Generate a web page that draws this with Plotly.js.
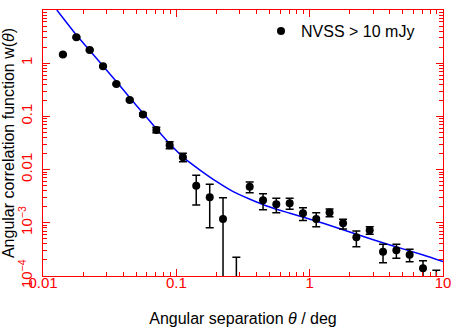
<!DOCTYPE html>
<html>
<head>
<meta charset="utf-8">
<script src="https://cdn.plot.ly/plotly-3.0.1.min.js"></script>
<style>
  html, body { margin: 0; padding: 0; background: #fff; }
  #chart { width: 453px; height: 327px; }
</style>
</head>
<body>
<div id="chart"></div>
<script>
const theta = [0.0141, 0.0178, 0.0224, 0.0282, 0.0355, 0.0447, 0.0562, 0.0708, 0.0891, 0.112,
  0.141, 0.178, 0.224, 0.282, 0.355, 0.447, 0.562, 0.708, 0.891, 1.12,
  1.41, 1.78, 2.24, 2.82, 3.55, 4.47, 5.62, 7.08, 8.91];
const wVal = [1.45, 3.07, 1.77, 0.875, 0.406, 0.203, 0.109, 0.0554, 0.0287, 0.0170,
  0.00498, 0.00301, 0.00118, 0.00004, 0.00478, 0.00265, 0.00223, 0.00233, 0.00151, 0.00118,
  0.00157, 0.000979, 0.000534, 0.000723, 0.000286, 0.000304, 0.000251, 0.000140, 0.00007];
const wHi = [1.50, 3.17, 1.82, 0.90, 0.42, 0.211, 0.116, 0.0624, 0.0334, 0.0202,
  0.00782, 0.00530, 0.00297, 0.000224, 0.00585, 0.00352, 0.00289, 0.00289, 0.00192, 0.00155,
  0.00182, 0.00116, 0.000701, 0.000845, 0.000394, 0.000394, 0.000318, 0.000194, 0.000128];
// negative lower bounds run off the bottom of the log axis
const wLo = [1.40, 2.97, 1.72, 0.85, 0.392, 0.195, 0.102, 0.0494, 0.0246, 0.0141,
  0.00216, 0.000809, -0.0005, -0.0002, 0.00368, 0.00176, 0.00155, 0.00179, 0.00110, 0.000845,
  0.00130, 0.000765, 0.000356, 0.000608, 0.000178, 0.000215, 0.000186, -0.0001, -0.0001];

// Model curve (blue)
const thetaFit = [0.0127, 0.0178, 0.0224, 0.0285, 0.0359, 0.0442, 0.0565, 0.0713, 0.0896, 0.1127,
  0.1505, 0.201, 0.267, 0.357, 0.476, 0.712, 1.265, 2.25, 4.00, 7.11, 10.0];
const wFit = [10.0, 3.39, 1.74, 0.861, 0.437, 0.234, 0.1135, 0.0575, 0.0302, 0.0170,
  0.00982, 0.00593, 0.00385, 0.00277, 0.00207, 0.00151, 0.000979, 0.000608, 0.000383, 0.000248, 0.000186];

const xTickVals = [0.01, 0.1, 1, 10];
const xTickText = ['0.01', '0.1', '1', '10'];
const yTickVals = [1e-4, 1e-3, 0.01, 0.1, 1, 10];
const yTickText = ['10<sup>\u22124</sup>', '10<sup>\u22123</sup>', '0.01', '0.1', '1', '10'];

function minorLogTicks(lo, hi) {
  const out = [];
  for (let e = lo; e < hi; e++) {
    for (let m = 2; m <= 9; m++) out.push(m * Math.pow(10, e));
  }
  return out;
}

const red = '#ff0000';
const font = 'Liberation Sans, Arial, Helvetica, sans-serif';

const points = {
  x: theta,
  y: wVal,
  type: 'scatter',
  mode: 'markers',
  name: 'NVSS > 10 mJy',
  marker: { color: '#000', size: 8 },
  error_y: {
    type: 'data',
    symmetric: false,
    array: wHi.map((h, i) => h - wVal[i]),
    arrayminus: wLo.map((l, i) => wVal[i] - l),
    color: '#000',
    thickness: 1.5,
    width: 4
  }
};

const model = {
  x: thetaFit,
  y: wFit,
  type: 'scatter',
  mode: 'lines',
  line: { color: '#0000ff', width: 1.5, shape: 'spline', smoothing: 0.6 },
  showlegend: false,
  hoverinfo: 'skip'
};

const axisBase = {
  type: 'log',
  showline: true,
  linecolor: red,
  linewidth: 1,
  mirror: 'allticks',
  ticks: 'inside',
  ticklen: 7,
  tickwidth: 1,
  tickcolor: red,
  tickmode: 'array',
  showgrid: false,
  zeroline: false,
  tickfont: { family: font, size: 15, color: red }
};

const layout = {
  width: 453,
  height: 327,
  margin: { l: 43, r: 10, t: 10, b: 51 },
  paper_bgcolor: '#fff',
  plot_bgcolor: '#fff',
  font: { family: font, color: '#000' },
  showlegend: true,
  legend: {
    x: 0.545, y: 0.985, xanchor: 'left', yanchor: 'top',
    bgcolor: 'rgba(0,0,0,0)',
    font: { family: font, size: 16, color: '#000' }
  },
  xaxis: Object.assign({}, axisBase, {
    range: [-2, 1],
    tickvals: xTickVals,
    ticktext: xTickText,
    ticklabelstandoff: -7,
    minor: { tickvals: minorLogTicks(-2, 1), ticks: 'inside', ticklen: 4, tickcolor: red, tickwidth: 1 },
    title: { text: 'Angular separation <i>\u03b8</i> / deg', font: { family: font, size: 16, color: '#000' }, standoff: 23 }
  }),
  yaxis: Object.assign({}, axisBase, {
    range: [-4, 1],
    tickvals: yTickVals,
    ticktext: yTickText,
    tickangle: -90,
    ticklabelstandoff: 4,
    minor: { tickvals: minorLogTicks(-4, 1), ticks: 'inside', ticklen: 4, tickcolor: red, tickwidth: 1 },
    title: { text: 'Angular correlation function w(<i>\u03b8</i>)', font: { family: font, size: 16, color: '#000' }, standoff: 3 }
  })
};

Plotly.newPlot('chart', [model, points], layout, { staticPlot: true, displayModeBar: false });
</script>
</body>
</html>
